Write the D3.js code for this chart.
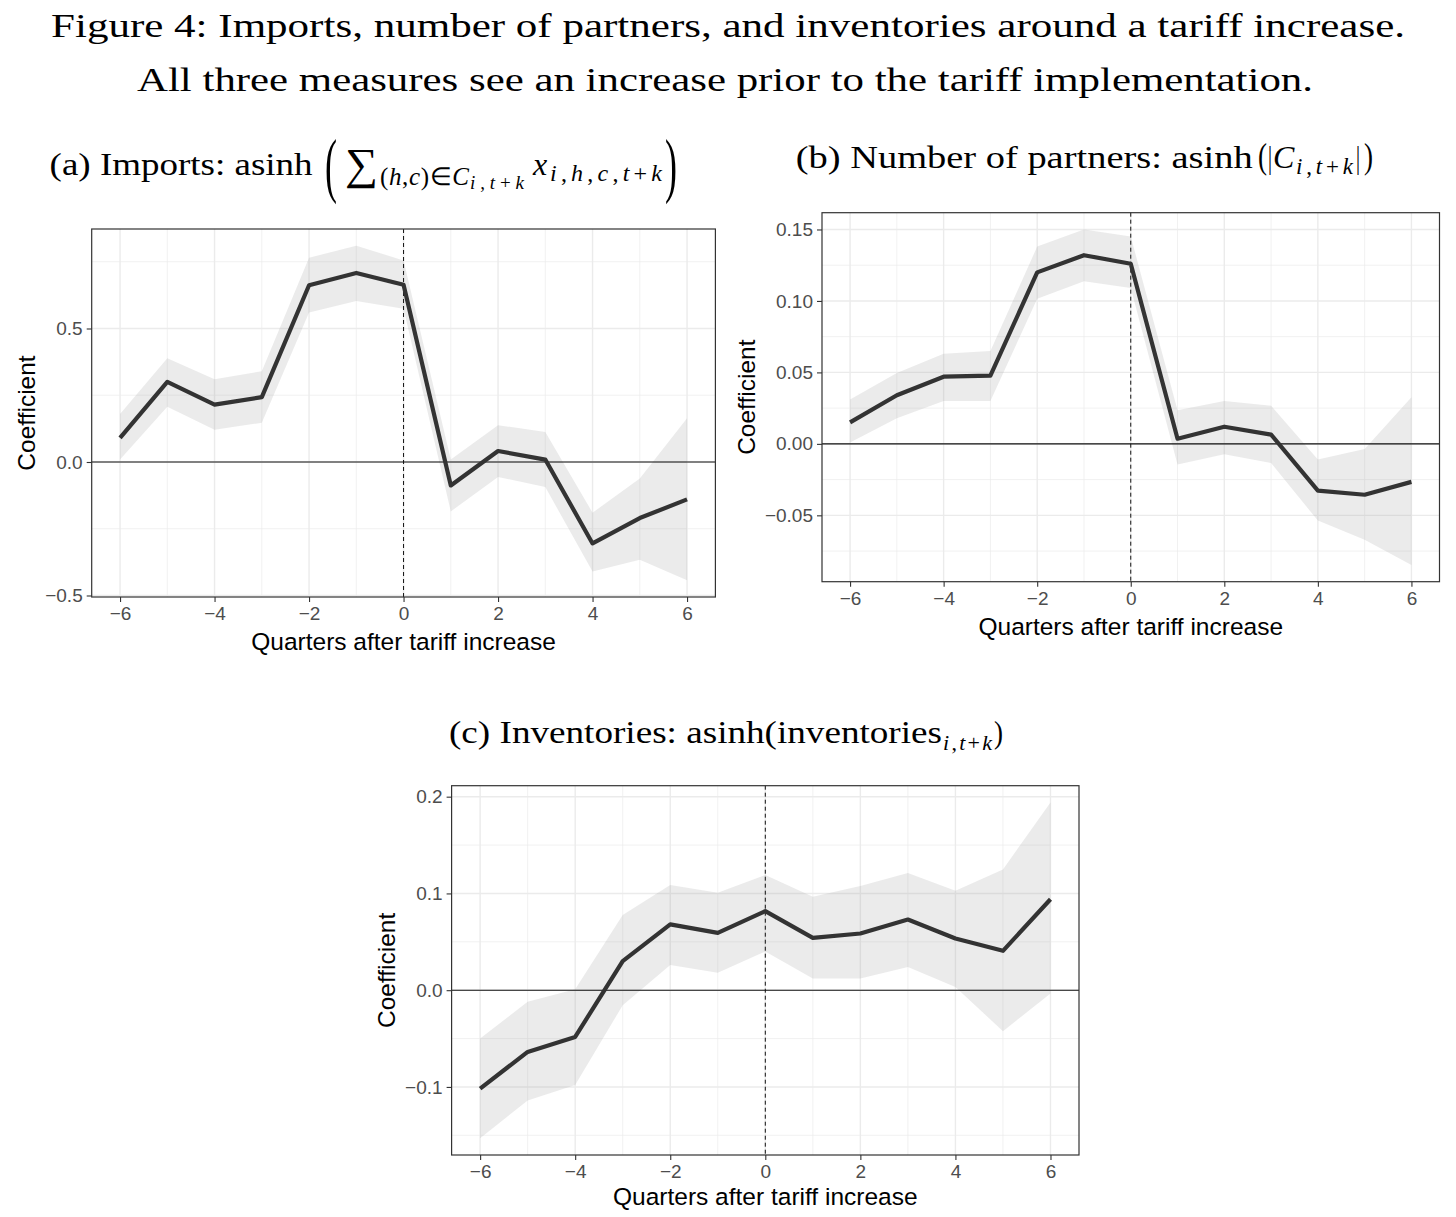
<!DOCTYPE html>
<html>
<head>
<meta charset="utf-8">
<script src="https://cdn.jsdelivr.net/npm/d3@7"></script>
<style>
  body { margin: 0; background: #fff; }
  svg { display: block; }
</style>
</head>
<body>
<svg id="fig" width="1456" height="1217"></svg>
<script>
// quarters relative to the tariff increase
const quarters = [-6, -5, -4, -3, -2, -1, 0, 1, 2, 3, 4, 5, 6]
const xTicks = [-6, -4, -2, 0, 2, 4, 6]

// (a) imports
const importsCoef = [0.09, 0.30, 0.215, 0.243, 0.662, 0.708, 0.664, -0.088, 0.041, 0.009, -0.305, -0.21, -0.14]
const importsLow  = [0.009, 0.207, 0.121, 0.147, 0.56, 0.603, 0.574, -0.185, -0.056, -0.094, -0.41, -0.366, -0.443]
const importsHigh = [0.18, 0.389, 0.31, 0.34, 0.765, 0.81, 0.755, 0.009, 0.138, 0.112, -0.19, -0.062, 0.164]
const importsTicks = [-0.5, 0, 0.5]

// (b) number of partners
const partnersCoef = [0.015, 0.034, 0.047, 0.0477, 0.120, 0.132, 0.126, 0.0036, 0.012, 0.0065, -0.0327, -0.0356, -0.0266]
const partnersLow  = [0.001, 0.018, 0.030, 0.030, 0.1016, 0.1137, 0.109, -0.0145, -0.0073, -0.0133, -0.0537, -0.067, -0.0847]
const partnersHigh = [0.031, 0.0496, 0.063, 0.065, 0.138, 0.150, 0.145, 0.0235, 0.030, 0.0266, -0.011, -0.0036, 0.0327]
const partnersTicks = [-0.05, 0, 0.05, 0.10, 0.15]

// (c) inventories
const inventoriesCoef = [-0.1017, -0.0638, -0.0483, 0.030, 0.068, 0.0593, 0.0817, 0.054, 0.0586, 0.073, 0.0534, 0.0407, 0.094]
const inventoriesLow  = [-0.153, -0.114, -0.098, -0.0155, 0.026, 0.018, 0.040, 0.012, 0.012, 0.024, 0.0034, -0.0424, -0.0034]
const inventoriesHigh = [-0.05, -0.012, 0.001, 0.0776, 0.1086, 0.1007, 0.119, 0.0966, 0.1076, 0.121, 0.1028, 0.1248, 0.194]
const inventoriesTicks = [-0.1, 0, 0.1, 0.2]

const sans = '"Liberation Sans", Arial, Helvetica, sans-serif'
const serif = '"Liberation Serif", "Times New Roman", serif'

let svg = d3.select('#fig')

function drawPanel(p) {
    let g = svg.append('g')
    let rows = quarters.map((q, i) => ({ q: q, coef: p.coef[i], low: p.low[i], high: p.high[i] }))
    // ggplot style 5% expansion of the data range
    let lo = d3.min(rows, d => d.low), hi = d3.max(rows, d => d.high)
    let pad = (hi - lo) * 0.05
    let x = d3.scaleLinear().domain([-6.6, 6.6]).range([p.left, p.right])
    let y = d3.scaleLinear().domain([lo - pad, hi + pad]).range([p.bottom, p.top])

    //minor grid sits halfway between the breaks
    let step = p.ticks[1] - p.ticks[0]
    let yMinor = d3.range(p.ticks.length + 1).map(i => p.ticks[0] - step / 2 + i * step)
        .filter(v => v > y.domain()[0] && v < y.domain()[1])
    let xMinor = quarters.filter(q => q % 2 !== 0)

    g.selectAll('.minx').data(xMinor).join('line')
        .attr('x1', d => x(d)).attr('x2', d => x(d)).attr('y1', p.top).attr('y2', p.bottom)
        .attr('stroke', '#ebebeb').attr('stroke-width', 0.7)
    g.selectAll('.miny').data(yMinor).join('line')
        .attr('x1', p.left).attr('x2', p.right).attr('y1', d => y(d)).attr('y2', d => y(d))
        .attr('stroke', '#ebebeb').attr('stroke-width', 0.7)
    g.selectAll('.majx').data(xTicks).join('line')
        .attr('x1', d => x(d)).attr('x2', d => x(d)).attr('y1', p.top).attr('y2', p.bottom)
        .attr('stroke', '#ebebeb').attr('stroke-width', 1.4)
    g.selectAll('.majy').data(p.ticks).join('line')
        .attr('x1', p.left).attr('x2', p.right).attr('y1', d => y(d)).attr('y2', d => y(d))
        .attr('stroke', '#ebebeb').attr('stroke-width', 1.4)

    // confidence band
    let area = d3.area().x(d => x(d.q)).y0(d => y(d.low)).y1(d => y(d.high))
    g.append('path').attr('d', area(rows))
        .attr('fill', '#999').attr('fill-opacity', 0.2)

    // zero line and the tariff date
    g.append('line').attr('x1', p.left).attr('x2', p.right).attr('y1', y(0)).attr('y2', y(0))
        .attr('stroke', '#111').attr('stroke-width', 1.1)
    g.append('line').attr('x1', x(0)).attr('x2', x(0)).attr('y1', p.top).attr('y2', p.bottom)
        .attr('stroke', '#111').attr('stroke-width', 1).attr('stroke-dasharray', '4,3')

    let line = d3.line().x(d => x(d.q)).y(d => y(d.coef))
    g.append('path').attr('d', line(rows))
        .attr('fill', 'none').attr('stroke', '#333').attr('stroke-width', 4.2)
        .attr('stroke-linejoin', 'round')

    g.append('rect').attr('x', p.left).attr('y', p.top)
        .attr('width', p.right - p.left).attr('height', p.bottom - p.top)
        .attr('fill', 'none').attr('stroke', '#333').attr('stroke-width', 1.2)

    // axes
    let xAxis = d3.axisBottom(x).tickValues(xTicks).tickFormat(d3.format('d')).tickSize(5).tickPadding(5)
    let yAxis = d3.axisLeft(y).tickValues(p.ticks).tickFormat(d3.format(p.fmt)).tickSize(5).tickPadding(4)
    let gx = g.append('g').attr('transform', `translate(0,${p.bottom})`).call(xAxis)
    let gy = g.append('g').attr('transform', `translate(${p.left},0)`).call(yAxis)
    for (let a of [gx, gy]) {
        a.select('.domain').remove()
        a.selectAll('.tick line').attr('stroke', '#333').attr('stroke-width', 1.1)
        a.selectAll('.tick text').attr('fill', '#4d4d4d').attr('font-family', sans).attr('font-size', 19)
    }

    g.append('text').text('Quarters after tariff increase')
        .attr('x', (p.left + p.right) / 2).attr('y', p.bottom + p.xlabGap)
        .attr('text-anchor', 'middle').attr('font-family', sans).attr('font-size', 24.5)
    g.append('text').text('Coefficient')
        .attr('transform', `translate(${p.left - p.ylabGap},${(p.top + p.bottom) / 2}) rotate(-90)`)
        .attr('text-anchor', 'middle').attr('font-family', sans).attr('font-size', 24.5)
}

// plain serif text stretched to the width it has in the figure
function plainText(t, x, y, size, len, anchor) {
    let el = svg.append('text').text(t).attr('x', x).attr('y', y)
        .attr('font-family', serif).attr('font-size', size)
        .attr('text-anchor', anchor || 'start')
    if (len) el.attr('textLength', len).attr('lengthAdjust', 'spacingAndGlyphs')
    return el
}
// letters in italics, digits and symbols upright
function mathText(t, x, y, size, len) {
    let el = svg.append('text').attr('x', x).attr('y', y)
        .attr('font-family', serif).attr('font-size', size)
    t.split('').forEach(ch => {
        el.append('tspan').text(ch).attr('font-style', /[a-zA-Z]/.test(ch) ? 'italic' : 'normal')
    })
    if (len) el.attr('textLength', len).attr('lengthAdjust', 'spacing')
    return el
}
function bigParen(ch, x, y, size, sx) {
    svg.append('text').text(ch).attr('transform', `translate(${x},${y}) scale(${sx},1)`)
        .attr('font-family', serif).attr('font-size', size)
}

// figure caption
plainText('Figure 4: Imports, number of partners, and inventories around a tariff increase.', 728, 37, 34, 1354, 'middle')
plainText('All three measures see an increase prior to the tariff implementation.', 725, 91, 34, 1176, 'middle')

// (a) title
plainText('(a) Imports: asinh', 49.6, 175, 32, 263)
bigParen('(', 325, 189, 72, 0.5)
plainText('\u2211', 345, 179, 44, 33)
mathText('(h,c)\u2208C', 380, 185, 25, 89)
mathText('i,t+k', 470, 189, 19, 54)
mathText('x', 533, 175, 32, 15)
mathText('i,h,c,t+k', 550, 181, 24, 112)
bigParen(')', 665, 189, 72, 0.5)

// (b) title
plainText('(b) Number of partners: asinh', 795.7, 168, 32, 457)
plainText('(', 1258, 168, 36, 9)
plainText('|', 1268, 168, 32, 4)
mathText('C', 1273, 168, 32, 22)
mathText('i,t+k', 1296, 174, 23, 57)
plainText('|', 1356, 168, 32, 4)
plainText(')', 1364, 168, 36, 9)

// (c) title
plainText('(c) Inventories: asinh(inventories', 449, 743, 31, 493)
mathText('i,t+k', 943, 750, 22, 49)
plainText(')', 994, 743, 31, 9)

drawPanel({ coef: importsCoef, low: importsLow, high: importsHigh, ticks: importsTicks, fmt: '.1f',
    left: 91.7, right: 715.4, top: 229, bottom: 597, xlabGap: 53, ylabGap: 57 })
drawPanel({ coef: partnersCoef, low: partnersLow, high: partnersHigh, ticks: partnersTicks, fmt: '.2f',
    left: 822, right: 1439.5, top: 212.7, bottom: 581.7, xlabGap: 53, ylabGap: 67 })
drawPanel({ coef: inventoriesCoef, low: inventoriesLow, high: inventoriesHigh, ticks: inventoriesTicks, fmt: '.1f',
    left: 451.6, right: 1079, top: 785.7, bottom: 1155, xlabGap: 50, ylabGap: 57 })
</script>
</body>
</html>
